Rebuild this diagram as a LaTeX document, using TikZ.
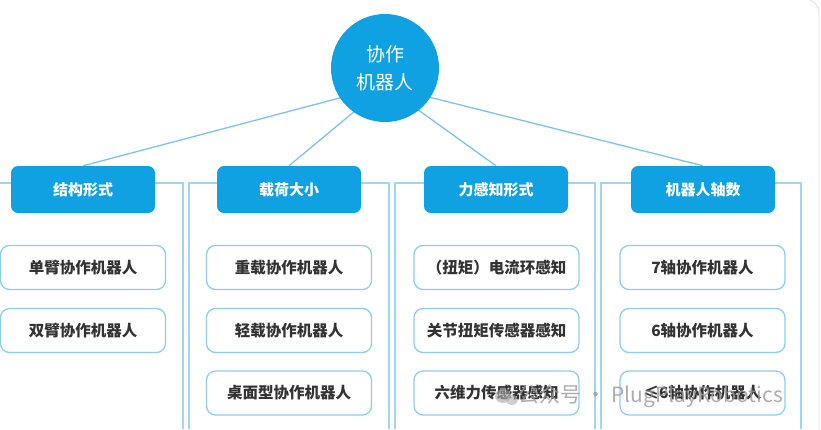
\documentclass[tikz,border=0pt]{standalone}
\usepackage{fontspec}
\setmainfont{Noto Sans CJK SC}
\usetikzlibrary{backgrounds}
\definecolor{hdr}{HTML}{0FA1E1}
\definecolor{frm}{HTML}{A3D6ED}
\definecolor{sub}{HTML}{8FCEEB}
\definecolor{lnk}{HTML}{7CC4E4}
\definecolor{txt}{HTML}{333333}
\begin{document}
\begin{tikzpicture}[x=1pt,y=-1pt,
  hdrbox/.style={rectangle, rounded corners=7pt, fill=hdr, minimum width=144pt, minimum height=47pt, text=white, font=\fontsize{15}{18}\selectfont\bfseries, inner sep=0pt},
  itembox/.style={rectangle, rounded corners=9pt, draw=sub, line width=1.3pt, fill=white, minimum width=165pt, minimum height=44pt, font=\fontsize{15.5}{18}\selectfont\bfseries, text=txt, inner sep=0pt},
  framestyle/.style={draw=frm, line width=1.5pt},
  link/.style={draw=lnk, line width=1.3pt},
  wmark/.style={text=black!40, font=\fontsize{21}{24}\selectfont, inner sep=0pt}
]
\useasboundingbox (0,0) rectangle (821,429);

% root
\node[circle, fill=hdr, minimum size=108pt, text=white, align=center, font=\fontsize{19}{28}\selectfont, inner sep=0pt] (root) at (385,68) {协作\\机器人};
\coordinate (hub) at (385,86);

% headers
\node[hdrbox] (h1) at (83,189.5) {结构形式};
\node[hdrbox] (h2) at (289,189.5) {载荷大小};
\node[hdrbox] (h3) at (496,189.5) {力感知形式};
\node[hdrbox] (h4) at (703,189.5) {机器人轴数};

% items
\node[itembox] (a1) at (83,267.5) {单臂协作机器人};
\node[itembox] (a2) at (83,330.5) {双臂协作机器人};
\node[itembox] (b1) at (289,267.5) {重载协作机器人};
\node[itembox] (b2) at (289,330.5) {轻载协作机器人};
\node[itembox] (b3) at (289,393) {桌面型协作机器人};
\node[itembox] (c1) at (496.5,267.5) {（扭矩）电流环感知};
\node[itembox] (c2) at (496.5,330.5) {关节扭矩传感器感知};
\node[itembox] (c3) at (496.5,393) {六维力传感器感知};
\node[itembox] (d1) at (702.5,267.5) {7轴协作机器人};
\node[itembox] (d2) at (702.5,330.5) {6轴协作机器人};
\node[itembox] (d3) at (702.5,393) {≤6轴协作机器人};

\begin{scope}[on background layer]
  % connectors
  \draw[link] (h1.north) -- (hub);
  \draw[link] (h2.north) -- (hub);
  \draw[link] (h3.north) -- (hub);
  \draw[link] (h4.north) -- (hub);
  % column frames
  \draw[framestyle] (0,183) -- (183,183) -- (183,429);
  \draw[framestyle] (189,429) -- (189,183) -- (389,183) -- (389,429);
  \draw[framestyle] (395,429) -- (395,183) -- (595,183) -- (595,429);
  \draw[framestyle] (601,429) -- (601,183) -- (801,183) -- (801,429);
  % card edge
  \draw[black!12, line width=0.8pt, rounded corners=14pt] (790,-1) -- (819,-1) -- (819,430);
\end{scope}

% watermark
\fill[black!35, opacity=0.6] (503,396) ellipse (8pt and 7pt);
\fill[black!30, opacity=0.6] (512,400) ellipse (6pt and 5pt);
\node[wmark, anchor=west, opacity=0.8] (wm) at (518,396) {公众号 · PlugPlayRobotics};
\end{tikzpicture}
\end{document}
